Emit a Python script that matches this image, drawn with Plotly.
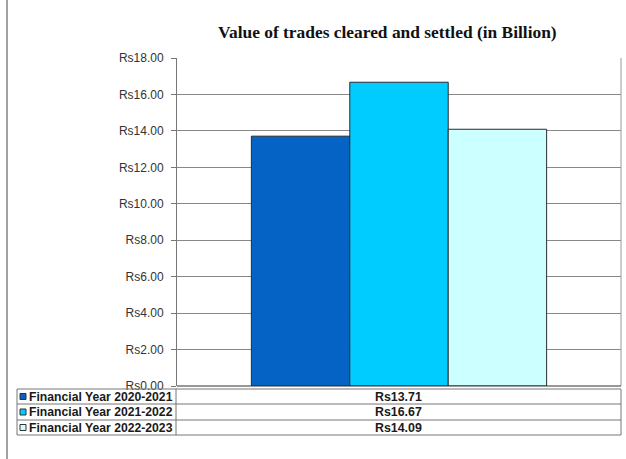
import plotly.graph_objects as go

# ---- data ----
series_names = ["Financial Year 2020-2021", "Financial Year 2021-2022", "Financial Year 2022-2023"]
series_values = [13.71, 16.67, 14.09]
series_colors = ["#0563C6", "#00CCFF", "#CCFFFF"]
category = [""]
y_tick_vals = [0, 2, 4, 6, 8, 10, 12, 14, 16, 18]
y_tick_text = ["Rs%.2f" % v for v in y_tick_vals]
title_text = "Value of trades cleared and settled (in Billion)"

W, H = 626, 459
L, R, T, B = 177, 5, 58, 73
PW, PH = W - L - R, H - T - B


def px(x):
    return (x - L) / PW


def py(y):
    return (H - B - y) / PH


fig = go.Figure()
for name, val, col in zip(series_names, series_values, series_colors):
    fig.add_trace(go.Bar(
        x=category, y=[val], name=name,
        marker=dict(color=col, line=dict(color="#2a2a2a", width=1)),
        showlegend=False,
    ))

shapes = []
annotations = []

# left border line of the page
shapes.append(dict(type="line", xref="paper", yref="paper",
                   x0=px(7), x1=px(7), y0=py(0), y1=py(H),
                   line=dict(color="#444444", width=1)))
# right border of plot area
shapes.append(dict(type="line", xref="paper", yref="paper",
                   x0=1, x1=1, y0=0, y1=1,
                   line=dict(color="#999999", width=1)))

# data table
rows_y = [389, 404, 420, 435]
tab_x0, tab_sep, tab_x1 = 17, 176, 621
for yy in rows_y:
    shapes.append(dict(type="line", xref="paper", yref="paper",
                       x0=px(tab_x0), x1=px(tab_x1), y0=py(yy), y1=py(yy),
                       line=dict(color="#777777", width=1)))
for xx in (tab_x0, tab_sep, tab_x1):
    shapes.append(dict(type="line", xref="paper", yref="paper",
                       x0=px(xx), x1=px(xx), y0=py(rows_y[0]), y1=py(rows_y[-1]),
                       line=dict(color="#777777", width=1)))

for i, (name, val, col) in enumerate(zip(series_names, series_values, series_colors)):
    yc = (rows_y[i] + rows_y[i + 1]) / 2
    # legend key square
    shapes.append(dict(type="rect", xref="paper", yref="paper",
                       x0=px(20), x1=px(26), y0=py(yc - 3), y1=py(yc + 3),
                       fillcolor=col, line=dict(color="#333333", width=1)))
    annotations.append(dict(xref="paper", yref="paper", x=px(27), y=py(yc),
                            xanchor="left", yanchor="middle", showarrow=False,
                            text="<b>%s</b>" % name,
                            font=dict(family="Liberation Sans, Arial", size=12.2, color="#1a1a1a")))
    annotations.append(dict(xref="paper", yref="paper", x=px((tab_sep + tab_x1) / 2), y=py(yc),
                            xanchor="center", yanchor="middle", showarrow=False,
                            text="<b>Rs%.2f</b>" % val,
                            font=dict(family="Liberation Sans, Arial", size=12.4, color="#1a1a1a")))

annotations.append(dict(xref="paper", yref="paper", x=px(387), y=py(32),
                        xanchor="center", yanchor="middle", showarrow=False,
                        text="<b>%s</b>" % title_text,
                        font=dict(family="Liberation Serif, Times New Roman", size=17.4, color="#111111")))

# x axis baseline
shapes.append(dict(type="line", xref="paper", yref="paper",
                   x0=0, x1=1, y0=0, y1=0, line=dict(color="#333333", width=1)))

fig.update_layout(
    width=W, height=H,
    margin=dict(l=L, r=R, t=T, b=B, pad=0),
    paper_bgcolor="white", plot_bgcolor="white",
    barmode="group", bargap=0.335, bargroupgap=0,
    shapes=shapes, annotations=annotations,
    xaxis=dict(showticklabels=False, ticks="", showgrid=False, zeroline=False,
               showline=False),
    yaxis=dict(range=[0, 18], tickvals=y_tick_vals, ticktext=y_tick_text,
               showgrid=True, gridcolor="#888888", gridwidth=1,
               zeroline=False, showline=True, linecolor="#777777", linewidth=1,
               ticks="outside", ticklen=5, tickcolor="#777777",
               ticklabelstandoff=5,
               tickfont=dict(family="Liberation Sans, Arial", size=12, color="#333333")),
    font=dict(family="Liberation Sans, Arial"),
)

fig.write_html("out.html", config={"displayModeBar": False},
               post_script="document.body.style.margin='0';document.body.style.overflow='hidden';")
